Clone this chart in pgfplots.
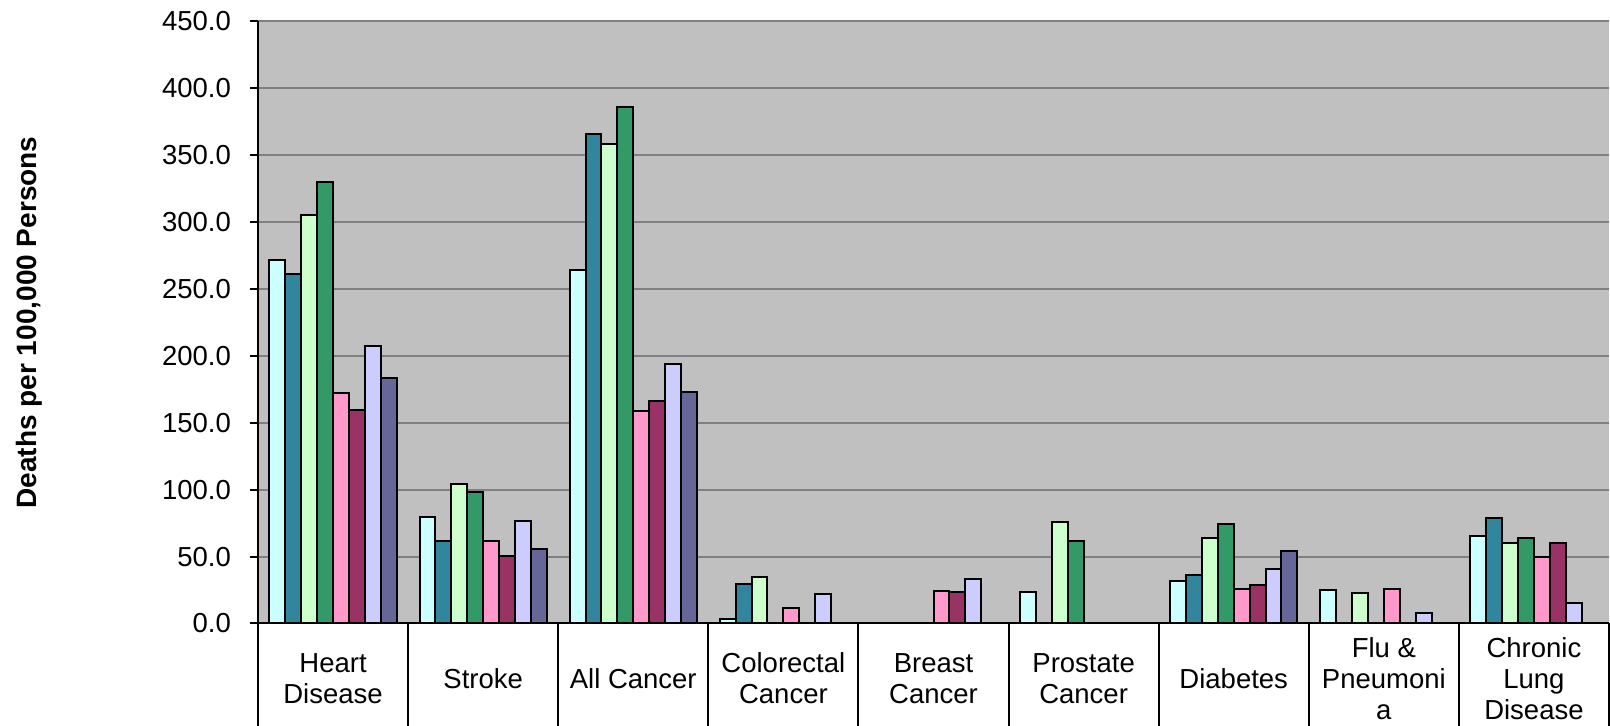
\documentclass[border=0pt]{standalone}
\usepackage{pgfplots}
\pgfplotsset{compat=1.18}
\usepackage{fontspec}
\setmainfont{Liberation Sans}
\definecolor{c1}{HTML}{CCFFFF}
\definecolor{c2}{HTML}{31859C}
\definecolor{c3}{HTML}{CCFFCC}
\definecolor{c4}{HTML}{339966}
\definecolor{c5}{HTML}{FF99CC}
\definecolor{c6}{HTML}{993366}
\definecolor{c7}{HTML}{CCCCFF}
\definecolor{c8}{HTML}{666699}
\definecolor{bg}{HTML}{C0C0C0}
\definecolor{gridc}{HTML}{808080}
\begin{document}
\begin{tikzpicture}
\useasboundingbox (0,0) rectangle (805pt,363pt);
\begin{axis}[
  at={(129pt,51.25pt)}, anchor=south west,
  scale only axis,
  width=675.5pt, height=301pt,
  ybar=0pt, bar width=0.106,
  xmin=-0.5, xmax=8.5,
  ymin=0, ymax=450,
  ytick={0,50,...,450},
  xtick={0,...,8},
  xticklabels={{Heart\\Disease},{Stroke},{All Cancer},{Colorectal\\Cancer},{Breast\\Cancer},{Prostate\\Cancer},{Diabetes},{Flu \&\\Pneumoni\\a},{Chronic\\Lung\\Disease}},
  extra x ticks={-0.5,0.5,1.5,2.5,3.5,4.5,5.5,6.5,7.5,8.5},
  extra x tick labels={},
  extra x tick style={major tick length=51.25pt, xtick style={draw=black, line width=1pt}, grid=none},
  major tick length=4pt,
  tick align=outside,
  xtick style={draw=none},
  ytick style={black, line width=1pt},
  axis x line*=bottom, axis y line*=left,
  axis line style={black, line width=1pt, -},
  ymajorgrids, grid style={gridc, line width=1pt},
  axis background/.style={fill=bg},
  clip=false,
  font=\fontsize{13.75}{16}\selectfont,
  xticklabel style={align=center, anchor=center, yshift=-23.5pt, font=\fontsize{13.75}{15.5}\selectfont},
  yticklabel style={anchor=east, font=\fontsize{13.75}{16}\selectfont},
  yticklabel shift=6pt,
  /pgf/number format/.cd, fixed, fixed zerofill, precision=1, assume math mode=true,
  /pgfplots/.cd,
  ylabel={\bfseries Deaths per 100,000 Persons},
  every axis y label/.style={at={(axis description cs:-0.1695,0.5)}, rotate=90, anchor=center, font=\fontsize{14}{16}\selectfont},
  every axis plot/.append style={draw=black, line width=1pt},
]
\addplot[fill=c1] coordinates {(0,271.7) (1,79.3) (2,264.2) (3,3.2) (5,23.4) (6,32.1) (7,24.9) (8,65.7)};
\addplot[fill=c2] coordinates {(0,261.6) (1,61.4) (2,365.6) (3,29.4) (6,36.3) (8,79.1)};
\addplot[fill=c3] coordinates {(0,305.6) (1,104.5) (2,358.4) (3,35.1) (5,76) (6,64.2) (7,23.1) (8,60)};
\addplot[fill=c4] coordinates {(0,330.3) (1,98.5) (2,386.2) (5,62) (6,74.7) (8,64.2)};
\addplot[fill=c5] coordinates {(0,172.2) (1,61.4) (2,158.6) (3,11.4) (4,24.6) (6,26.1) (7,26.1) (8,49.6)};
\addplot[fill=c6] coordinates {(0,159.4) (1,50.2) (2,166) (4,23.4) (6,28.8) (8,60)};
\addplot[fill=c7] coordinates {(0,207.4) (1,76.6) (2,194.1) (3,21.9) (4,33.3) (6,40.8) (7,8.2) (8,15.6)};
\addplot[fill=c8] coordinates {(0,183.7) (1,56) (2,173) (6,54)};
\end{axis}
\end{tikzpicture}
\end{document}
